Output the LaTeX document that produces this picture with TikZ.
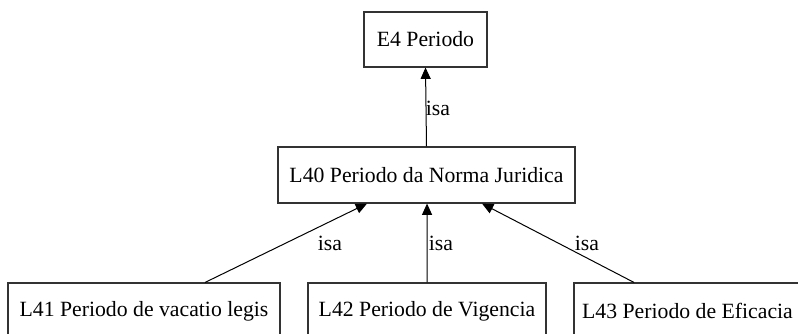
\documentclass[tikz,border=0pt]{standalone}
\usepackage{fontspec}
\setmainfont{Liberation Serif}
\usetikzlibrary{arrows.meta}
\begin{document}
\begin{tikzpicture}[x=0.75pt,y=-0.75pt,
  box/.style={draw=black!80,line width=0.8pt,fill=white,inner sep=0pt,
    font=\fontsize{16.3}{18}\selectfont,anchor=center},
  lbl/.style={font=\fontsize{16.3}{18}\selectfont,inner sep=0pt,anchor=center},
  isaedge/.style={draw=black,line width=0.75pt,-{Triangle[length=8.5pt,width=7.5pt]}}]
\useasboundingbox (0,0) rectangle (798,334);
\clip (0,0) rectangle (798,334);
\node[box,minimum width=92.25pt,minimum height=41.25pt] (e4) at (425.5,39.5) {E4 Periodo};
\node[box,minimum width=222.75pt,minimum height=42pt] (l40) at (426.5,175) {L40 Periodo da Norma Juridica};
\node[box,minimum width=204pt,minimum height=42pt] (l41) at (144,311) {L41 Periodo de vacatio legis};
\node[box,minimum width=178.5pt,minimum height=42pt] (l42) at (427,311) {L42 Periodo de Vigencia};
\node[box,minimum width=170.25pt,minimum height=42pt] (l43) at (687.5,311) {L43 Periodo de Eficacia};
\draw[isaedge] (l40.north) -- (e4.south);
\draw[isaedge] ([xshift=45.75pt]l41.north) -- ([xshift=-44.6pt]l40.south);
\draw[isaedge] (l42.north) -- ([xshift=0.4pt]l40.south);
\draw[isaedge] ([xshift=-40.1pt]l43.north) -- ([xshift=41.6pt]l40.south);
\node[lbl] (t1) at (438,108) {isa};
\node[lbl] (t2) at (330,243) {isa};
\node[lbl] (t3) at (441,243) {isa};
\node[lbl] (t4) at (587,243) {isa};
\end{tikzpicture}
\end{document}
